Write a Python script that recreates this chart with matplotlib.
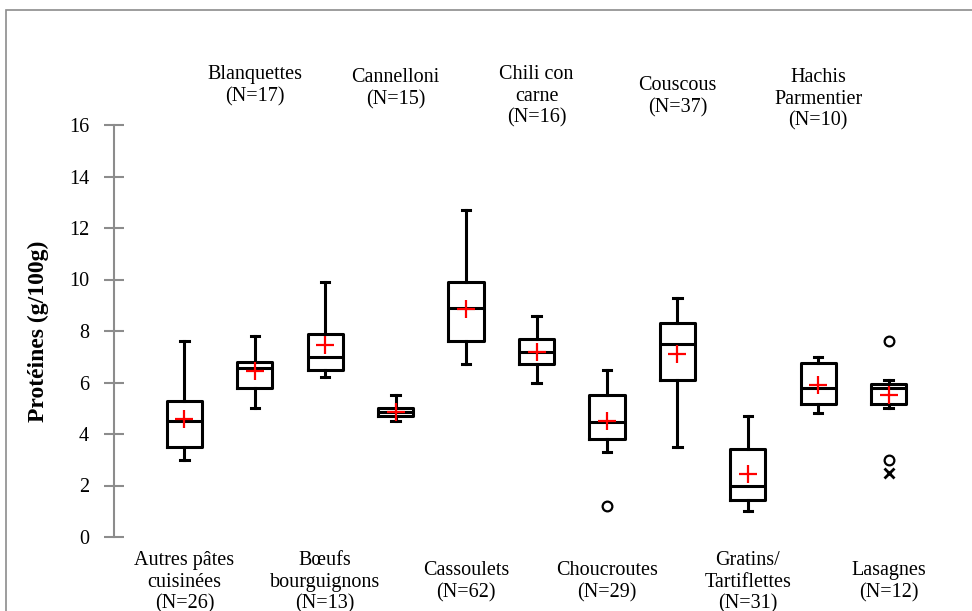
import matplotlib.pyplot as plt
from matplotlib.patches import Rectangle

# Catégories de plats et effectifs
plats = ["Autres pâtes\ncuisinées", "Blanquettes", "Bœufs\nbourguignons", "Cannelloni",
         "Cassoulets", "Chili con\ncarne", "Choucroutes", "Couscous",
         "Gratins/\nTartiflettes", "Hachis\nParmentier", "Lasagnes"]
effectifs = [26, 17, 13, 15, 62, 16, 29, 37, 31, 10, 12]

# Statistiques des boîtes (g/100g)
minimums = [3.0, 5.0, 6.2, 4.5, 6.7, 6.0, 3.3, 3.5, 1.0, 4.8, 5.0]
q1 = [3.5, 5.8, 6.5, 4.7, 7.6, 6.7, 3.8, 6.1, 1.45, 5.15, 5.15]
medianes = [4.5, 6.55, 7.0, 4.87, 8.9, 7.2, 4.45, 7.5, 2.0, 5.8, 5.8]
q3 = [5.3, 6.8, 7.9, 5.0, 9.9, 7.7, 5.5, 8.3, 3.4, 6.75, 5.95]
maximums = [7.6, 7.8, 9.9, 5.5, 12.7, 8.6, 6.5, 9.3, 4.7, 7.0, 6.1]
moyennes = [4.6, 6.45, 7.45, 4.85, 8.85, 7.2, 4.5, 7.1, 2.45, 5.9, 5.5]
valeurs_atypiques = [[], [], [], [], [], [], [1.2], [], [], [], [7.6, 3.0]]
valeurs_extremes = [[], [], [], [], [], [], [], [], [], [], [2.5]]

police = "Liberation Serif"
gris = "#8c8c8c"

fig = plt.figure(figsize=(9.72, 6.11), dpi=100)
W, H = 972, 611
ax = fig.add_axes([114 / W, 74 / H, 845 / W, 412 / H])

positions = list(range(1, len(plats) + 1))
stats = []
for i in range(len(plats)):
    stats.append(dict(whislo=minimums[i], q1=q1[i], med=medianes[i], q3=q3[i],
                      whishi=maximums[i], mean=moyennes[i], fliers=valeurs_atypiques[i]))

noir = dict(color="black", linewidth=2.2)
ax.bxp(stats, positions=positions, widths=0.5, capwidths=0.12,
       showmeans=True, patch_artist=False,
       boxprops=noir, whiskerprops=noir, capprops=noir, medianprops=noir,
       meanprops=dict(marker="+", markersize=13, markeredgecolor="red",
                      markeredgewidth=1.6, linestyle="none"),
       flierprops=dict(marker="o", markersize=7, markerfacecolor="none",
                       markeredgecolor="black", markeredgewidth=1.6))

for pos, vals in zip(positions, valeurs_extremes):
    if vals:
        ax.plot([pos] * len(vals), vals, linestyle="none", marker="x",
                markersize=7, color="black", markeredgewidth=2)

ax.set_xlim(0, 12)
ax.set_ylim(0, 16)
ax.set_yticks(range(0, 17, 2))
ax.set_xticks([])
for s in ["top", "right", "bottom"]:
    ax.spines[s].set_visible(False)
ax.spines["left"].set_color(gris)
ax.spines["left"].set_linewidth(1.5)
ax.tick_params(axis="y", direction="inout", length=14, width=1.5, color=gris,
               labelsize=14.5, pad=11)
for t in ax.get_yticklabels():
    t.set_fontfamily(police)
ax.set_ylabel("Protéines (g/100g)", fontsize=17, fontweight="bold",
              fontfamily=police)
ax.yaxis.set_label_coords(-0.077, 0.5)

# Étiquettes alternées : dessous pour les impairs, dessus pour les pairs
hauts = [65, 68, 65, 76, 68]
k = 0
for i, (nom, n) in enumerate(zip(plats, effectifs)):
    texte = f"{nom}\n(N={n})"
    x_fig = (114 + positions[i] * 845 / 12) / W
    if i % 2 == 0:
        haut = 551 if texte.count("\n") == 2 else 561
    else:
        haut = hauts[k]
        k += 1
    fig.text(x_fig, 1 - haut / H, texte, ha="center", va="top",
             fontsize=14.5, fontfamily=police, linespacing=1.2)

# Cadre du graphique
fig.patches.append(Rectangle((6 / W, -0.1), 1.2, 1.1 - 10 / H,
                             transform=fig.transFigure, fill=False,
                             edgecolor=gris, linewidth=1.2))

fig.savefig("out.png", dpi=100)
